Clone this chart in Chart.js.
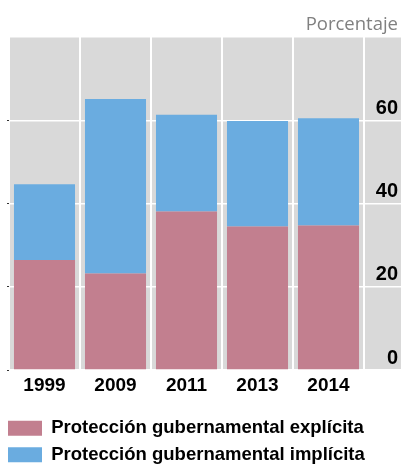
<!DOCTYPE html>
<html>
<head>
<meta charset="utf-8">
<script src="https://cdn.jsdelivr.net/npm/chart.js@4"></script>
<style>
  html, body { margin: 0; padding: 0; background: #fff; }
  #wrap { width: 403px; height: 467px; }
</style>
</head>
<body>
<div id="wrap"><canvas id="protChart" width="403" height="467"></canvas></div>
<script>
const years = ['1999', '2009', '2011', '2013', '2014'];
const explicita = [26.4, 23.2, 38.1, 34.5, 34.7];
const implicita = [18.2, 41.9, 23.2, 25.3, 25.8];
const yTicks = [0, 20, 40, 60];

// grey panel behind the plot and the right-hand tick area
const panelBg = {
  id: 'panelBg',
  beforeDraw(chart) {
    const { ctx, chartArea } = chart;
    const right = chart.scales.y.right + 3;
    ctx.save();
    ctx.fillStyle = '#d9d9d9';
    ctx.fillRect(chartArea.left, chartArea.top, right - chartArea.left, chartArea.bottom - chartArea.top);
    ctx.restore();
  }
};

const ctx = document.getElementById('protChart').getContext('2d');
new Chart(ctx, {
  type: 'bar',
  data: {
    labels: years,
    datasets: [
      {
        label: 'Protección gubernamental explícita',
        data: explicita,
        backgroundColor: '#c27f8f',
        yAxisID: 'y'
      },
      {
        label: 'Protección gubernamental implícita',
        data: implicita,
        backgroundColor: '#6aace0',
        yAxisID: 'y'
      }
    ]
  },
  options: {
    responsive: false,
    animation: false,
    layout: { padding: { left: 0, right: 5, top: 0, bottom: -7 } },
    datasets: { bar: { barPercentage: 0.86, categoryPercentage: 1 } },
    scales: {
      x: {
        stacked: true,
        offset: true,
        border: { display: false },
        grid: { color: '#ffffff', lineWidth: 2, offset: true, drawTicks: false },
        ticks: {
          padding: 4,
          color: '#000',
          font: { family: 'Liberation Sans', weight: 'bold', size: 19 }
        },
        afterFit: s => { s.height = 41; }
      },
      y: {
        stacked: true,
        position: 'right',
        min: 0,
        max: 80,
        border: { display: false },
        grid: { color: '#ffffff', lineWidth: 1.5, tickLength: 37, tickColor: '#ffffff' },
        afterBuildTicks: s => { s.ticks = yTicks.concat([80]).map(v => ({ value: v })); },
        ticks: {
          crossAlign: 'far',
          padding: 0,
          labelOffset: -12,
          color: '#000',
          font: { family: 'Liberation Sans', weight: 'bold', size: 20 },
          callback: v => (yTicks.includes(v) ? v : '')
        },
        afterFit: s => { s.width = 34; }
      },
      yl: {
        position: 'left',
        min: 0,
        max: 80,
        border: { display: false },
        grid: { drawOnChartArea: false, tickLength: 2, tickColor: '#333' },
        afterBuildTicks: s => { s.ticks = yTicks.map(v => ({ value: v })); },
        ticks: { display: false },
        afterFit: s => { s.width = 9; }
      }
    },
    plugins: {
      title: {
        display: true,
        text: 'Porcentaje',
        align: 'end',
        color: '#808080',
        font: { family: 'Open Sans', weight: 'normal', size: 18.5 },
        padding: { top: 14, bottom: 0.8 }
      },
      legend: {
        position: 'bottom',
        align: 'start',
        labels: {
          boxWidth: 34,
          boxHeight: 15,
          padding: 8,
          color: '#000',
          font: { family: 'Liberation Sans', weight: 'bold', size: 18.5 }
        }
      },
      tooltip: { enabled: false }
    }
  },
  plugins: [panelBg]
});
</script>
</body>
</html>
